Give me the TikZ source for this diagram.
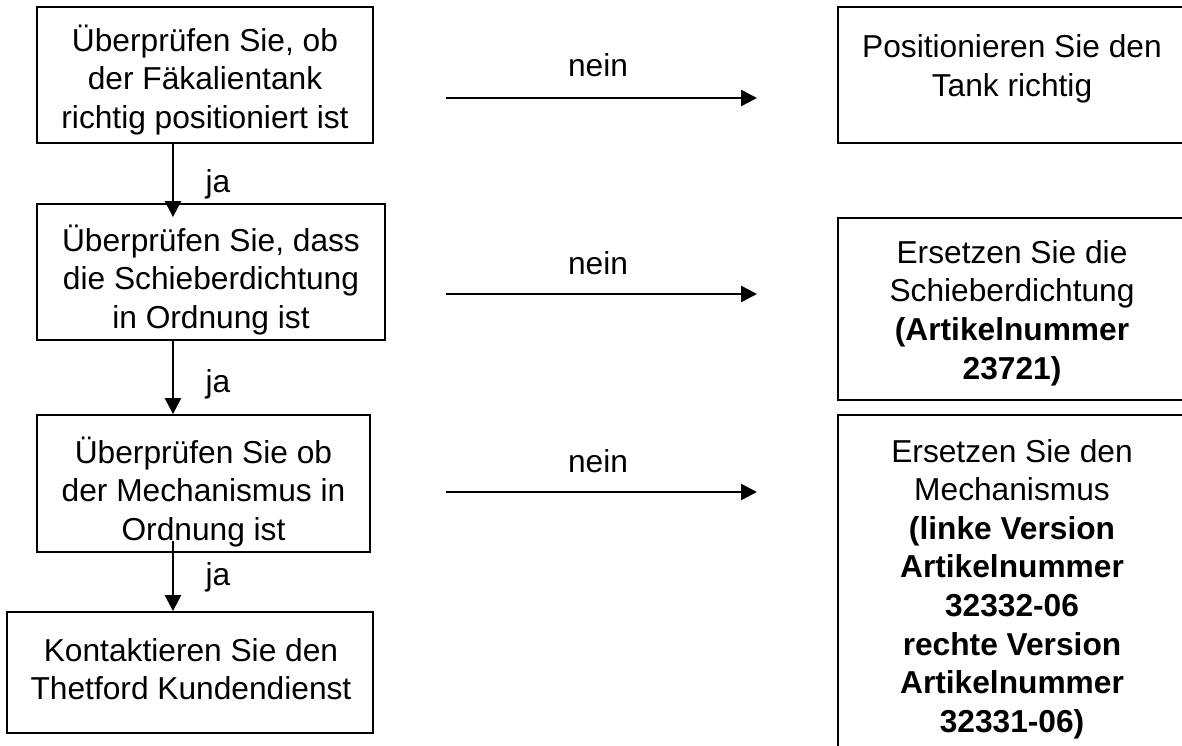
\documentclass[tikz,border=0pt]{standalone}
\usepackage{fontspec}
\setmainfont{Liberation Sans}
\usetikzlibrary{arrows.meta,calc}
\tikzset{
  box/.style={draw=black, line width=1.8pt, rectangle, inner sep=0pt, fill=white},
  txt/.style={align=center, inner sep=0pt, font=\fontsize{31.7}{38.6}\selectfont},
  lbl/.style={inner sep=0pt, anchor=base, font=\fontsize{31.7}{38.6}\selectfont},
  arr/.style={line width=2.4pt, -{Triangle[length=16pt,width=16pt]}}
}
\begin{document}
\begin{tikzpicture}[x=1pt,y=-1pt]
\useasboundingbox (0,0) rectangle (1182,746);
\fill[white] (0,0) rectangle (1182,746);
\clip (0,0) rectangle (1182,746);
% left column boxes
\node[box, minimum width=336pt, minimum height=136pt] (b1) at (205,75) {};
\node[box, minimum width=348pt, minimum height=136pt] (b2) at (211,272) {};
\node[box, minimum width=333pt, minimum height=137pt] (b3) at (203.5,483.5) {};
\node[box, minimum width=366pt, minimum height=121pt] (b4) at (190,672.5) {};
% right column boxes
\node[box, minimum width=348pt, minimum height=136pt] (r1) at (1012,75) {};
\node[box, minimum width=348pt, minimum height=182pt] (r2) at (1012,309) {};
\node[box, minimum width=348pt, minimum height=348pt] (r3) at (1012,589) {};
% texts
\node[txt] (t1) at (205,80) {Überprüfen Sie, ob\\der Fäkalientank\\richtig positioniert ist};
\node[txt] (t2) at (211,280) {Überprüfen Sie, dass\\die Schieberdichtung\\in Ordnung ist};
\node[txt] (t3) at (203.5,492) {Überprüfen Sie ob\\der Mechanismus in\\Ordnung ist};
\node[txt] (t4) at (191,669) {Kontaktieren Sie den\\Thetford Kundendienst};
\node[txt] (s1) at (1012,69) {Positionieren Sie den\\Tank richtig};
\node[txt] (s2) at (1012,313) {Ersetzen Sie die\\Schieberdichtung\\\textbf{(Artikelnummer}\\\textbf{23721)}};
\node[txt] (s3) at (1012,589) {Ersetzen Sie den\\Mechanismus\\\textbf{(linke Version}\\\textbf{Artikelnummer}\\\textbf{32332-06}\\\textbf{rechte Version}\\\textbf{Artikelnummer}\\\textbf{32331-06)}};
% vertical "ja" connectors
\coordinate (ax) at (173,0);
\draw[arr] (b1.south -| ax) -- ([yshift=-14pt]b2.north -| ax);
\draw[arr] (b2.south -| ax) -- (b3.north -| ax);
\draw[arr] ([yshift=12pt]b3.south -| ax) -- (b4.north -| ax);
\node[lbl] (j1) at (218,193) {ja};
\node[lbl] (j2) at (218,392) {ja};
\node[lbl] (j3) at (218,585) {ja};
% horizontal "nein" connectors
\coordinate (n1s) at (446,98);  \coordinate (n1e) at (757,98);
\coordinate (n2s) at (446,294); \coordinate (n2e) at (757,294);
\coordinate (n3s) at (446,492); \coordinate (n3e) at (757,492);
\draw[arr] (n1s) -- (n1e);
\draw[arr] (n2s) -- (n2e);
\draw[arr] (n3s) -- (n3e);
\node[lbl] (k1) at (598,77) {nein};
\node[lbl] (k2) at (598,274) {nein};
\node[lbl] (k3) at (598,472) {nein};
\end{tikzpicture}
\end{document}
